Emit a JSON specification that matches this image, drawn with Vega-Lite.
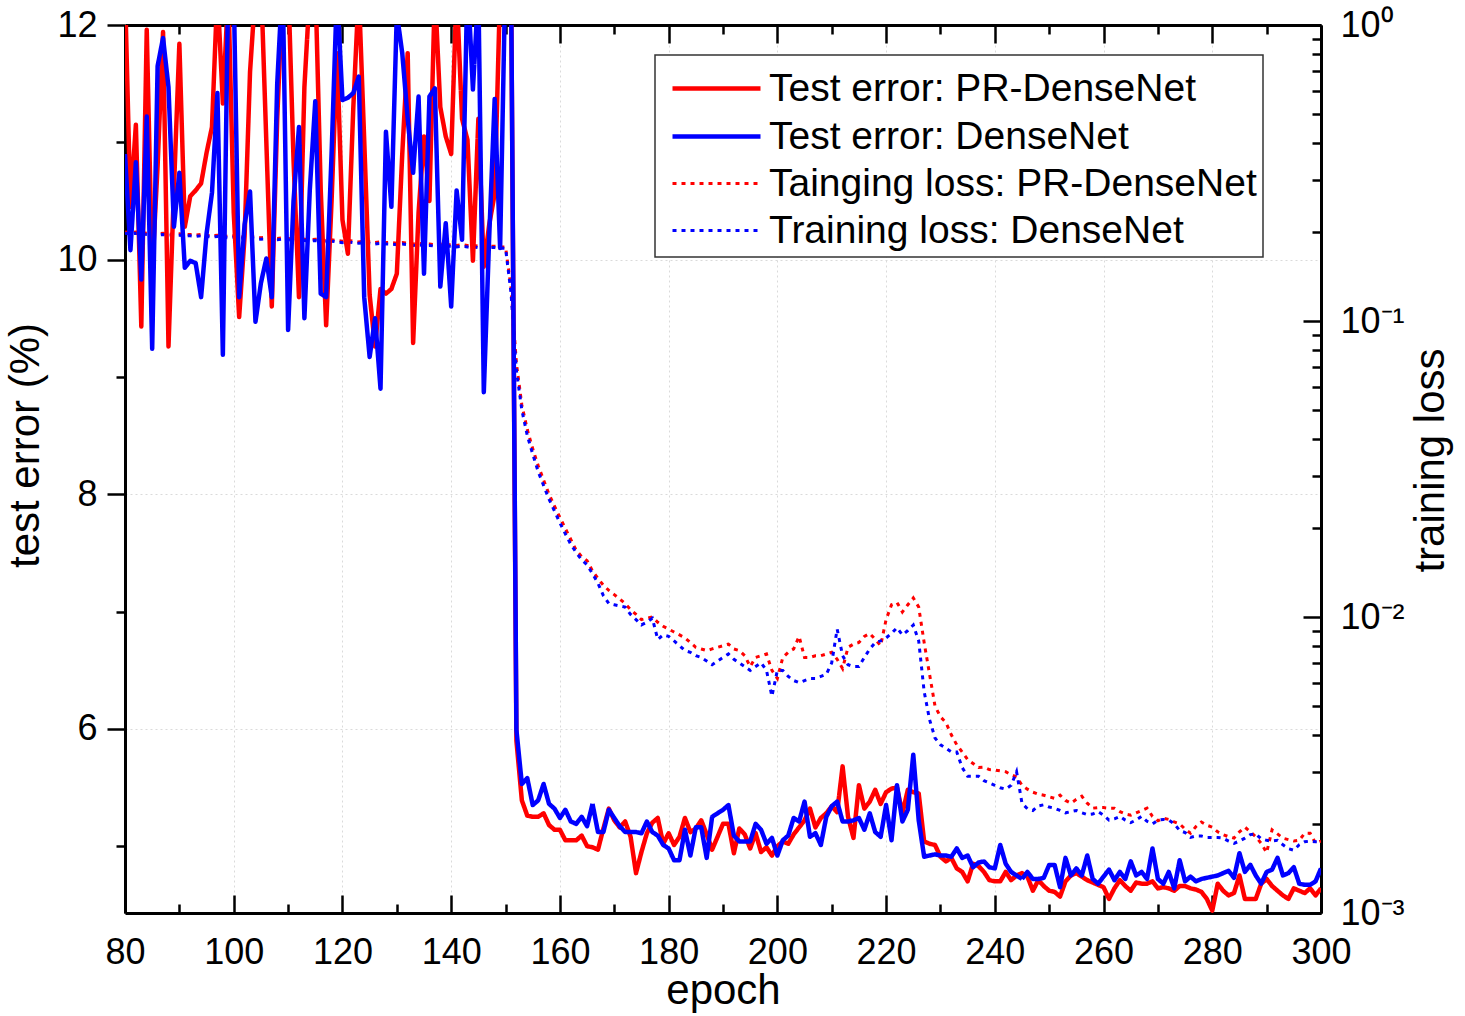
{
  "$schema": "https://vega.github.io/schema/vega-lite/v6.json",
  "width": 1196,
  "height": 888,
  "autosize": {"type": "none"},
  "padding": {"left": 125, "top": 25, "right": 144, "bottom": 103},
  "background": "white",
  "config": {
    "view": {"stroke": null},
    "font": "Liberation Sans",
    "axis": {
      "domainColor": "black",
      "domainWidth": 3,
      "tickColor": "black",
      "tickWidth": 2.5,
      "labelColor": "black",
      "labelFont": "Liberation Sans",
      "labelFontSize": 36,
      "labelFlush": false,
      "labelOverlap": false,
      "labelBound": false,
      "titleFont": "Liberation Sans",
      "titleFontSize": 42,
      "titleFontWeight": "normal",
      "titleColor": "black",
      "gridColor": "#dadada",
      "gridDash": [2, 3],
      "gridWidth": 1
    },
    "legend": {"strokeWidth": 1.5}
  },
  "data": {
    "values": [
      {"epoch":80,"te_pr":12.3,"te_dn":10.9,"tl_pr":0.200,"tl_dn":0.198},
      {"epoch":81,"te_pr":10.45,"te_dn":10.08,"tl_pr":0.199,"tl_dn":0.197},
      {"epoch":82,"te_pr":11.15,"te_dn":10.83,"tl_pr":0.200,"tl_dn":0.198},
      {"epoch":83,"te_pr":9.43,"te_dn":9.83,"tl_pr":0.199,"tl_dn":0.197},
      {"epoch":84,"te_pr":11.96,"te_dn":11.22,"tl_pr":0.198,"tl_dn":0.196},
      {"epoch":85,"te_pr":9.9,"te_dn":9.24,"tl_pr":0.198,"tl_dn":0.196},
      {"epoch":86,"te_pr":10.8,"te_dn":11.65,"tl_pr":0.197,"tl_dn":0.195},
      {"epoch":87,"te_pr":11.94,"te_dn":11.89,"tl_pr":0.198,"tl_dn":0.196},
      {"epoch":88,"te_pr":9.26,"te_dn":11.47,"tl_pr":0.197,"tl_dn":0.195},
      {"epoch":89,"te_pr":10.6,"te_dn":10.28,"tl_pr":0.196,"tl_dn":0.195},
      {"epoch":90,"te_pr":11.84,"te_dn":10.74,"tl_pr":0.197,"tl_dn":0.195},
      {"epoch":91,"te_pr":10.28,"te_dn":9.93,"tl_pr":0.196,"tl_dn":0.194},
      {"epoch":92,"te_pr":10.54,"te_dn":9.99,"tl_pr":0.196,"tl_dn":0.194},
      {"epoch":93,"te_pr":10.59,"te_dn":9.97,"tl_pr":0.195,"tl_dn":0.193},
      {"epoch":94,"te_pr":10.65,"te_dn":9.68,"tl_pr":0.196,"tl_dn":0.194},
      {"epoch":95,"te_pr":10.91,"te_dn":10.22,"tl_pr":0.195,"tl_dn":0.193},
      {"epoch":96,"te_pr":11.13,"te_dn":10.57,"tl_pr":0.194,"tl_dn":0.192},
      {"epoch":97,"te_pr":12.3,"te_dn":11.42,"tl_pr":0.195,"tl_dn":0.193},
      {"epoch":98,"te_pr":11.33,"te_dn":9.19,"tl_pr":0.194,"tl_dn":0.192},
      {"epoch":99,"te_pr":12.3,"te_dn":12.4,"tl_pr":0.193,"tl_dn":0.191},
      {"epoch":100,"te_pr":10.4,"te_dn":12.3,"tl_pr":0.194,"tl_dn":0.192},
      {"epoch":101,"te_pr":9.51,"te_dn":9.68,"tl_pr":0.193,"tl_dn":0.191},
      {"epoch":102,"te_pr":10.2,"te_dn":10.3,"tl_pr":0.192,"tl_dn":0.190},
      {"epoch":103,"te_pr":11.6,"te_dn":10.58,"tl_pr":0.193,"tl_dn":0.191},
      {"epoch":104,"te_pr":12.3,"te_dn":9.47,"tl_pr":0.192,"tl_dn":0.190},
      {"epoch":105,"te_pr":12.4,"te_dn":9.8,"tl_pr":0.191,"tl_dn":0.189},
      {"epoch":106,"te_pr":11.0,"te_dn":10.01,"tl_pr":0.192,"tl_dn":0.190},
      {"epoch":107,"te_pr":9.6,"te_dn":9.68,"tl_pr":0.191,"tl_dn":0.189},
      {"epoch":108,"te_pr":11.2,"te_dn":11.5,"tl_pr":0.190,"tl_dn":0.188},
      {"epoch":109,"te_pr":12.3,"te_dn":12.4,"tl_pr":0.191,"tl_dn":0.189},
      {"epoch":110,"te_pr":12.4,"te_dn":9.4,"tl_pr":0.190,"tl_dn":0.188},
      {"epoch":111,"te_pr":10.85,"te_dn":10.5,"tl_pr":0.189,"tl_dn":0.187},
      {"epoch":112,"te_pr":9.68,"te_dn":11.13,"tl_pr":0.190,"tl_dn":0.188},
      {"epoch":113,"te_pr":11.47,"te_dn":9.5,"tl_pr":0.189,"tl_dn":0.187},
      {"epoch":114,"te_pr":12.3,"te_dn":10.6,"tl_pr":0.188,"tl_dn":0.186},
      {"epoch":115,"te_pr":12.4,"te_dn":11.35,"tl_pr":0.189,"tl_dn":0.187},
      {"epoch":116,"te_pr":10.6,"te_dn":9.71,"tl_pr":0.188,"tl_dn":0.186},
      {"epoch":117,"te_pr":9.44,"te_dn":9.68,"tl_pr":0.187,"tl_dn":0.185},
      {"epoch":118,"te_pr":10.5,"te_dn":10.9,"tl_pr":0.188,"tl_dn":0.186},
      {"epoch":119,"te_pr":11.76,"te_dn":12.3,"tl_pr":0.187,"tl_dn":0.185},
      {"epoch":120,"te_pr":10.34,"te_dn":11.36,"tl_pr":0.186,"tl_dn":0.184},
      {"epoch":121,"te_pr":10.05,"te_dn":11.38,"tl_pr":0.187,"tl_dn":0.185},
      {"epoch":122,"te_pr":11.3,"te_dn":11.42,"tl_pr":0.186,"tl_dn":0.184},
      {"epoch":123,"te_pr":12.3,"te_dn":11.56,"tl_pr":0.185,"tl_dn":0.183},
      {"epoch":124,"te_pr":11.02,"te_dn":9.68,"tl_pr":0.186,"tl_dn":0.184},
      {"epoch":125,"te_pr":9.7,"te_dn":9.17,"tl_pr":0.185,"tl_dn":0.183},
      {"epoch":126,"te_pr":9.26,"te_dn":9.5,"tl_pr":0.184,"tl_dn":0.182},
      {"epoch":127,"te_pr":9.75,"te_dn":8.9,"tl_pr":0.185,"tl_dn":0.183},
      {"epoch":128,"te_pr":9.71,"te_dn":11.09,"tl_pr":0.184,"tl_dn":0.182},
      {"epoch":129,"te_pr":9.75,"te_dn":10.45,"tl_pr":0.184,"tl_dn":0.182},
      {"epoch":130,"te_pr":9.88,"te_dn":12.1,"tl_pr":0.183,"tl_dn":0.181},
      {"epoch":131,"te_pr":10.9,"te_dn":11.76,"tl_pr":0.184,"tl_dn":0.182},
      {"epoch":132,"te_pr":11.76,"te_dn":11.2,"tl_pr":0.183,"tl_dn":0.181},
      {"epoch":133,"te_pr":9.29,"te_dn":10.74,"tl_pr":0.182,"tl_dn":0.180},
      {"epoch":134,"te_pr":10.4,"te_dn":11.39,"tl_pr":0.183,"tl_dn":0.181},
      {"epoch":135,"te_pr":11.05,"te_dn":9.88,"tl_pr":0.182,"tl_dn":0.180},
      {"epoch":136,"te_pr":10.5,"te_dn":11.39,"tl_pr":0.182,"tl_dn":0.180},
      {"epoch":137,"te_pr":12.3,"te_dn":11.46,"tl_pr":0.181,"tl_dn":0.179},
      {"epoch":138,"te_pr":11.3,"te_dn":9.77,"tl_pr":0.182,"tl_dn":0.180},
      {"epoch":139,"te_pr":11.05,"te_dn":10.31,"tl_pr":0.181,"tl_dn":0.179},
      {"epoch":140,"te_pr":10.9,"te_dn":9.6,"tl_pr":0.181,"tl_dn":0.179},
      {"epoch":141,"te_pr":12.3,"te_dn":10.59,"tl_pr":0.180,"tl_dn":0.178},
      {"epoch":142,"te_pr":11.2,"te_dn":10.17,"tl_pr":0.181,"tl_dn":0.179},
      {"epoch":143,"te_pr":11.02,"te_dn":12.4,"tl_pr":0.180,"tl_dn":0.178},
      {"epoch":144,"te_pr":9.99,"te_dn":11.45,"tl_pr":0.180,"tl_dn":0.178},
      {"epoch":145,"te_pr":11.2,"te_dn":12.3,"tl_pr":0.179,"tl_dn":0.177},
      {"epoch":146,"te_pr":9.94,"te_dn":8.87,"tl_pr":0.180,"tl_dn":0.178},
      {"epoch":147,"te_pr":10.3,"te_dn":10.2,"tl_pr":0.179,"tl_dn":0.177},
      {"epoch":148,"te_pr":10.56,"te_dn":11.37,"tl_pr":0.179,"tl_dn":0.177},
      {"epoch":149,"te_pr":12.3,"te_dn":10.1,"tl_pr":0.178,"tl_dn":0.176},
      {"epoch":150,"te_pr":12.5,"te_dn":12.5,"tl_pr":0.178,"tl_dn":0.176},
      {"epoch":151,"te_pr":12.5,"te_dn":12.5,"tl_pr":0.13,"tl_dn":0.125},
      {"epoch":152,"te_pr":5.9,"te_dn":5.99,"tl_pr":0.072,"tl_dn":0.068},
      {"epoch":153,"te_pr":5.39,"te_dn":5.53,"tl_pr":0.052,"tl_dn":0.050},
      {"epoch":154,"te_pr":5.26,"te_dn":5.58,"tl_pr":0.043,"tl_dn":0.041},
      {"epoch":155,"te_pr":5.25,"te_dn":5.35,"tl_pr":0.037,"tl_dn":0.0355},
      {"epoch":156,"te_pr":5.25,"te_dn":5.39,"tl_pr":0.0325,"tl_dn":0.031},
      {"epoch":157,"te_pr":5.28,"te_dn":5.53,"tl_pr":0.029,"tl_dn":0.0278},
      {"epoch":158,"te_pr":5.18,"te_dn":5.36,"tl_pr":0.026,"tl_dn":0.025},
      {"epoch":159,"te_pr":5.14,"te_dn":5.32,"tl_pr":0.0237,"tl_dn":0.0228},
      {"epoch":160,"te_pr":5.14,"te_dn":5.24,"tl_pr":0.0217,"tl_dn":0.0208},
      {"epoch":161,"te_pr":5.05,"te_dn":5.31,"tl_pr":0.0199,"tl_dn":0.0191},
      {"epoch":162,"te_pr":5.05,"te_dn":5.21,"tl_pr":0.0183,"tl_dn":0.0176},
      {"epoch":163,"te_pr":5.05,"te_dn":5.19,"tl_pr":0.0168,"tl_dn":0.0165},
      {"epoch":164,"te_pr":5.09,"te_dn":5.25,"tl_pr":0.0160,"tl_dn":0.0156},
      {"epoch":165,"te_pr":5.0,"te_dn":5.17,"tl_pr":0.0155,"tl_dn":0.0150},
      {"epoch":166,"te_pr":4.99,"te_dn":5.36,"tl_pr":0.0143,"tl_dn":0.0140},
      {"epoch":167,"te_pr":4.97,"te_dn":5.12,"tl_pr":0.0135,"tl_dn":0.0130},
      {"epoch":168,"te_pr":5.15,"te_dn":5.12,"tl_pr":0.0128,"tl_dn":0.0118},
      {"epoch":169,"te_pr":5.32,"te_dn":5.31,"tl_pr":0.0123,"tl_dn":0.0111},
      {"epoch":170,"te_pr":5.22,"te_dn":5.24,"tl_pr":0.0119,"tl_dn":0.0110},
      {"epoch":171,"te_pr":5.16,"te_dn":5.17,"tl_pr":0.0115,"tl_dn":0.0109},
      {"epoch":172,"te_pr":5.21,"te_dn":5.12,"tl_pr":0.0111,"tl_dn":0.0108},
      {"epoch":173,"te_pr":5.08,"te_dn":5.12,"tl_pr":0.0106,"tl_dn":0.0102},
      {"epoch":174,"te_pr":4.77,"te_dn":5.12,"tl_pr":0.0102,"tl_dn":0.0098},
      {"epoch":175,"te_pr":4.95,"te_dn":5.11,"tl_pr":0.0098,"tl_dn":0.0094},
      {"epoch":176,"te_pr":5.11,"te_dn":5.21,"tl_pr":0.0099,"tl_dn":0.0096},
      {"epoch":177,"te_pr":5.2,"te_dn":5.12,"tl_pr":0.0100,"tl_dn":0.0099},
      {"epoch":178,"te_pr":5.24,"te_dn":5.09,"tl_pr":0.0096,"tl_dn":0.0084},
      {"epoch":179,"te_pr":5.02,"te_dn":5.01,"tl_pr":0.0093,"tl_dn":0.0087},
      {"epoch":180,"te_pr":5.11,"te_dn":4.98,"tl_pr":0.0091,"tl_dn":0.0086},
      {"epoch":181,"te_pr":5.01,"te_dn":4.88,"tl_pr":0.0089,"tl_dn":0.0083},
      {"epoch":182,"te_pr":5.08,"te_dn":4.88,"tl_pr":0.0087,"tl_dn":0.0080},
      {"epoch":183,"te_pr":5.24,"te_dn":5.14,"tl_pr":0.0085,"tl_dn":0.0077},
      {"epoch":184,"te_pr":5.12,"te_dn":4.92,"tl_pr":0.0082,"tl_dn":0.0076},
      {"epoch":185,"te_pr":5.15,"te_dn":5.16,"tl_pr":0.0079,"tl_dn":0.0074},
      {"epoch":186,"te_pr":5.22,"te_dn":5.16,"tl_pr":0.0078,"tl_dn":0.0073},
      {"epoch":187,"te_pr":5.1,"te_dn":4.9,"tl_pr":0.0077,"tl_dn":0.0071},
      {"epoch":188,"te_pr":4.97,"te_dn":5.25,"tl_pr":0.0078,"tl_dn":0.0069},
      {"epoch":189,"te_pr":5.08,"te_dn":5.28,"tl_pr":0.0079,"tl_dn":0.0071},
      {"epoch":190,"te_pr":5.19,"te_dn":5.31,"tl_pr":0.0080,"tl_dn":0.0073},
      {"epoch":191,"te_pr":5.19,"te_dn":5.35,"tl_pr":0.0081,"tl_dn":0.0075},
      {"epoch":192,"te_pr":4.94,"te_dn":5.09,"tl_pr":0.0078,"tl_dn":0.0072},
      {"epoch":193,"te_pr":5.15,"te_dn":5.04,"tl_pr":0.0077,"tl_dn":0.0070},
      {"epoch":194,"te_pr":5.1,"te_dn":5.04,"tl_pr":0.0074,"tl_dn":0.0068},
      {"epoch":195,"te_pr":4.98,"te_dn":5.04,"tl_pr":0.0068,"tl_dn":0.0066},
      {"epoch":196,"te_pr":5.11,"te_dn":5.19,"tl_pr":0.0073,"tl_dn":0.0068},
      {"epoch":197,"te_pr":4.95,"te_dn":5.14,"tl_pr":0.0074,"tl_dn":0.0070},
      {"epoch":198,"te_pr":4.99,"te_dn":5.02,"tl_pr":0.0075,"tl_dn":0.0066},
      {"epoch":199,"te_pr":4.92,"te_dn":5.07,"tl_pr":0.0066,"tl_dn":0.0054},
      {"epoch":200,"te_pr":5.0,"te_dn":4.92,"tl_pr":0.0062,"tl_dn":0.0066},
      {"epoch":201,"te_pr":5.04,"te_dn":5.05,"tl_pr":0.0073,"tl_dn":0.0066},
      {"epoch":202,"te_pr":5.02,"te_dn":5.09,"tl_pr":0.0076,"tl_dn":0.0063},
      {"epoch":203,"te_pr":5.1,"te_dn":5.24,"tl_pr":0.0078,"tl_dn":0.0061},
      {"epoch":204,"te_pr":5.16,"te_dn":5.21,"tl_pr":0.0086,"tl_dn":0.0060},
      {"epoch":205,"te_pr":5.22,"te_dn":5.38,"tl_pr":0.0073,"tl_dn":0.0061},
      {"epoch":206,"te_pr":5.32,"te_dn":5.08,"tl_pr":0.0073,"tl_dn":0.0062},
      {"epoch":207,"te_pr":5.16,"te_dn":5.11,"tl_pr":0.0074,"tl_dn":0.0062},
      {"epoch":208,"te_pr":5.24,"te_dn":5.01,"tl_pr":0.0074,"tl_dn":0.0063},
      {"epoch":209,"te_pr":5.28,"te_dn":5.25,"tl_pr":0.0075,"tl_dn":0.0064},
      {"epoch":210,"te_pr":5.34,"te_dn":5.34,"tl_pr":0.0076,"tl_dn":0.0070},
      {"epoch":211,"te_pr":5.29,"te_dn":5.38,"tl_pr":0.0072,"tl_dn":0.0091},
      {"epoch":212,"te_pr":5.68,"te_dn":5.21,"tl_pr":0.0067,"tl_dn":0.0074},
      {"epoch":213,"te_pr":5.25,"te_dn":5.21,"tl_pr":0.0079,"tl_dn":0.0069},
      {"epoch":214,"te_pr":5.07,"te_dn":5.22,"tl_pr":0.0081,"tl_dn":0.0068},
      {"epoch":215,"te_pr":5.52,"te_dn":5.24,"tl_pr":0.0082,"tl_dn":0.0068},
      {"epoch":216,"te_pr":5.32,"te_dn":5.14,"tl_pr":0.0086,"tl_dn":0.0073},
      {"epoch":217,"te_pr":5.38,"te_dn":5.28,"tl_pr":0.0088,"tl_dn":0.0078},
      {"epoch":218,"te_pr":5.48,"te_dn":5.12,"tl_pr":0.0084,"tl_dn":0.0082},
      {"epoch":219,"te_pr":5.36,"te_dn":5.08,"tl_pr":0.0080,"tl_dn":0.0083},
      {"epoch":220,"te_pr":5.46,"te_dn":5.35,"tl_pr":0.0098,"tl_dn":0.0085},
      {"epoch":221,"te_pr":5.49,"te_dn":5.05,"tl_pr":0.0110,"tl_dn":0.0088},
      {"epoch":222,"te_pr":5.5,"te_dn":5.52,"tl_pr":0.0112,"tl_dn":0.0092},
      {"epoch":223,"te_pr":5.28,"te_dn":5.21,"tl_pr":0.0104,"tl_dn":0.0087},
      {"epoch":224,"te_pr":5.48,"te_dn":5.31,"tl_pr":0.0110,"tl_dn":0.0090},
      {"epoch":225,"te_pr":5.46,"te_dn":5.78,"tl_pr":0.0116,"tl_dn":0.0094},
      {"epoch":226,"te_pr":5.45,"te_dn":5.22,"tl_pr":0.0108,"tl_dn":0.0083},
      {"epoch":227,"te_pr":5.04,"te_dn":4.91,"tl_pr":0.0082,"tl_dn":0.0056},
      {"epoch":228,"te_pr":5.02,"te_dn":4.92,"tl_pr":0.0064,"tl_dn":0.0045},
      {"epoch":229,"te_pr":5.01,"te_dn":4.93,"tl_pr":0.0050,"tl_dn":0.0039},
      {"epoch":230,"te_pr":4.91,"te_dn":4.92,"tl_pr":0.0046,"tl_dn":0.0037},
      {"epoch":231,"te_pr":4.87,"te_dn":4.92,"tl_pr":0.0044,"tl_dn":0.0036},
      {"epoch":232,"te_pr":4.9,"te_dn":4.91,"tl_pr":0.0040,"tl_dn":0.0035},
      {"epoch":233,"te_pr":4.81,"te_dn":4.98,"tl_pr":0.0037,"tl_dn":0.0035},
      {"epoch":234,"te_pr":4.78,"te_dn":4.9,"tl_pr":0.0035,"tl_dn":0.0031},
      {"epoch":235,"te_pr":4.7,"te_dn":4.92,"tl_pr":0.0033,"tl_dn":0.0029},
      {"epoch":236,"te_pr":4.85,"te_dn":4.82,"tl_pr":0.0032,"tl_dn":0.0029},
      {"epoch":237,"te_pr":4.83,"te_dn":4.86,"tl_pr":0.0031,"tl_dn":0.0029},
      {"epoch":238,"te_pr":4.78,"te_dn":4.87,"tl_pr":0.00311,"tl_dn":0.0028},
      {"epoch":239,"te_pr":4.71,"te_dn":4.82,"tl_pr":0.00305,"tl_dn":0.00275},
      {"epoch":240,"te_pr":4.7,"te_dn":4.81,"tl_pr":0.00304,"tl_dn":0.0027},
      {"epoch":241,"te_pr":4.7,"te_dn":5.01,"tl_pr":0.00302,"tl_dn":0.00265},
      {"epoch":242,"te_pr":4.78,"te_dn":4.85,"tl_pr":0.0030,"tl_dn":0.00262},
      {"epoch":243,"te_pr":4.71,"te_dn":4.78,"tl_pr":0.00293,"tl_dn":0.0027},
      {"epoch":244,"te_pr":4.75,"te_dn":4.75,"tl_pr":0.00288,"tl_dn":0.0030},
      {"epoch":245,"te_pr":4.77,"te_dn":4.72,"tl_pr":0.0027,"tl_dn":0.00235},
      {"epoch":246,"te_pr":4.74,"te_dn":4.78,"tl_pr":0.00262,"tl_dn":0.00225},
      {"epoch":247,"te_pr":4.62,"te_dn":4.72,"tl_pr":0.00256,"tl_dn":0.00222},
      {"epoch":248,"te_pr":4.71,"te_dn":4.72,"tl_pr":0.00252,"tl_dn":0.0023},
      {"epoch":249,"te_pr":4.66,"te_dn":4.73,"tl_pr":0.0025,"tl_dn":0.00232},
      {"epoch":250,"te_pr":4.62,"te_dn":4.84,"tl_pr":0.00247,"tl_dn":0.00228},
      {"epoch":251,"te_pr":4.61,"te_dn":4.84,"tl_pr":0.00244,"tl_dn":0.00226},
      {"epoch":252,"te_pr":4.57,"te_dn":4.65,"tl_pr":0.0025,"tl_dn":0.00222},
      {"epoch":253,"te_pr":4.7,"te_dn":4.9,"tl_pr":0.0024,"tl_dn":0.00218},
      {"epoch":254,"te_pr":4.75,"te_dn":4.75,"tl_pr":0.00235,"tl_dn":0.0022},
      {"epoch":255,"te_pr":4.77,"te_dn":4.81,"tl_pr":0.00242,"tl_dn":0.00222},
      {"epoch":256,"te_pr":4.74,"te_dn":4.75,"tl_pr":0.00248,"tl_dn":0.00218},
      {"epoch":257,"te_pr":4.71,"te_dn":4.92,"tl_pr":0.00235,"tl_dn":0.00215},
      {"epoch":258,"te_pr":4.69,"te_dn":4.72,"tl_pr":0.00226,"tl_dn":0.00216},
      {"epoch":259,"te_pr":4.67,"te_dn":4.68,"tl_pr":0.00227,"tl_dn":0.0022},
      {"epoch":260,"te_pr":4.65,"te_dn":4.74,"tl_pr":0.00227,"tl_dn":0.00214},
      {"epoch":261,"te_pr":4.55,"te_dn":4.8,"tl_pr":0.00226,"tl_dn":0.00206},
      {"epoch":262,"te_pr":4.64,"te_dn":4.71,"tl_pr":0.00226,"tl_dn":0.00208},
      {"epoch":263,"te_pr":4.71,"te_dn":4.78,"tl_pr":0.0022,"tl_dn":0.00212},
      {"epoch":264,"te_pr":4.66,"te_dn":4.72,"tl_pr":0.00216,"tl_dn":0.00206},
      {"epoch":265,"te_pr":4.62,"te_dn":4.87,"tl_pr":0.00214,"tl_dn":0.00202},
      {"epoch":266,"te_pr":4.69,"te_dn":4.75,"tl_pr":0.00218,"tl_dn":0.00206},
      {"epoch":267,"te_pr":4.68,"te_dn":4.78,"tl_pr":0.00222,"tl_dn":0.00212},
      {"epoch":268,"te_pr":4.68,"te_dn":4.72,"tl_pr":0.00226,"tl_dn":0.00204},
      {"epoch":269,"te_pr":4.7,"te_dn":4.98,"tl_pr":0.00212,"tl_dn":0.002},
      {"epoch":270,"te_pr":4.64,"te_dn":4.72,"tl_pr":0.00205,"tl_dn":0.00206},
      {"epoch":271,"te_pr":4.65,"te_dn":4.68,"tl_pr":0.00209,"tl_dn":0.00207},
      {"epoch":272,"te_pr":4.64,"te_dn":4.78,"tl_pr":0.00207,"tl_dn":0.00206},
      {"epoch":273,"te_pr":4.62,"te_dn":4.64,"tl_pr":0.00203,"tl_dn":0.002},
      {"epoch":274,"te_pr":4.66,"te_dn":4.88,"tl_pr":0.002,"tl_dn":0.0019},
      {"epoch":275,"te_pr":4.66,"te_dn":4.7,"tl_pr":0.00192,"tl_dn":0.00187},
      {"epoch":276,"te_pr":4.64,"te_dn":4.74,"tl_pr":0.00186,"tl_dn":0.0018},
      {"epoch":277,"te_pr":4.63,"te_dn":4.7,"tl_pr":0.00196,"tl_dn":0.00182},
      {"epoch":278,"te_pr":4.61,"te_dn":4.72,"tl_pr":0.00203,"tl_dn":0.00182},
      {"epoch":279,"te_pr":4.55,"te_dn":4.73,"tl_pr":0.00198,"tl_dn":0.0018},
      {"epoch":280,"te_pr":4.45,"te_dn":4.74,"tl_pr":0.00195,"tl_dn":0.0018},
      {"epoch":281,"te_pr":4.68,"te_dn":4.75,"tl_pr":0.00188,"tl_dn":0.0018},
      {"epoch":282,"te_pr":4.62,"te_dn":4.77,"tl_pr":0.00184,"tl_dn":0.00179},
      {"epoch":283,"te_pr":4.58,"te_dn":4.79,"tl_pr":0.00181,"tl_dn":0.00175},
      {"epoch":284,"te_pr":4.6,"te_dn":4.73,"tl_pr":0.00179,"tl_dn":0.00172},
      {"epoch":285,"te_pr":4.75,"te_dn":4.94,"tl_pr":0.00188,"tl_dn":0.00175},
      {"epoch":286,"te_pr":4.55,"te_dn":4.78,"tl_pr":0.00195,"tl_dn":0.00179},
      {"epoch":287,"te_pr":4.55,"te_dn":4.84,"tl_pr":0.00188,"tl_dn":0.00184},
      {"epoch":288,"te_pr":4.55,"te_dn":4.75,"tl_pr":0.00181,"tl_dn":0.00185},
      {"epoch":289,"te_pr":4.68,"te_dn":4.68,"tl_pr":0.00172,"tl_dn":0.00178},
      {"epoch":290,"te_pr":4.72,"te_dn":4.78,"tl_pr":0.0016,"tl_dn":0.00176},
      {"epoch":291,"te_pr":4.66,"te_dn":4.8,"tl_pr":0.00191,"tl_dn":0.00175},
      {"epoch":292,"te_pr":4.62,"te_dn":4.9,"tl_pr":0.00185,"tl_dn":0.00176},
      {"epoch":293,"te_pr":4.58,"te_dn":4.75,"tl_pr":0.00179,"tl_dn":0.0017},
      {"epoch":294,"te_pr":4.55,"te_dn":4.77,"tl_pr":0.00177,"tl_dn":0.00165},
      {"epoch":295,"te_pr":4.64,"te_dn":4.82,"tl_pr":0.00175,"tl_dn":0.00163},
      {"epoch":296,"te_pr":4.62,"te_dn":4.68,"tl_pr":0.00176,"tl_dn":0.0017},
      {"epoch":297,"te_pr":4.6,"te_dn":4.67,"tl_pr":0.00186,"tl_dn":0.00174},
      {"epoch":298,"te_pr":4.64,"te_dn":4.67,"tl_pr":0.00186,"tl_dn":0.00175},
      {"epoch":299,"te_pr":4.58,"te_dn":4.7,"tl_pr":0.00172,"tl_dn":0.00174},
      {"epoch":300,"te_pr":4.64,"te_dn":4.81,"tl_pr":0.00175,"tl_dn":0.00174}
    ]
  },
  "layer": [
    {
      "transform": [{"fold": ["tl_pr", "tl_dn"], "as": ["series", "value"]}],
      "mark": {"type": "line", "clip": true, "strokeCap": "butt"},
      "encoding": {
        "x": {
          "field": "epoch", "type": "quantitative",
          "scale": {"domain": [80, 300], "nice": false, "zero": false},
          "axis": {
            "orient": "top", "title": null, "labels": false, "grid": false,
            "values": [80,90,100,110,120,130,140,150,160,170,180,190,200,210,220,230,240,250,260,270,280,290,300],
            "tickSize": {"condition": {"test": "datum.value % 20 == 0", "value": -18}, "value": -9}
          }
        },
        "y": {
          "field": "value", "type": "quantitative",
          "scale": {"type": "log", "domain": [0.001, 1], "nice": false},
          "axis": {
            "orient": "right", "grid": false,
            "values": [0.001,0.002,0.003,0.004,0.005,0.006,0.007,0.008,0.009,0.01,0.02,0.03,0.04,0.05,0.06,0.07,0.08,0.09,0.1,0.2,0.3,0.4,0.5,0.6,0.7,0.8,0.9,1],
            "labelExpr": "datum.value == 1 ? '10⁰' : datum.value == 0.1 ? '10⁻¹' : datum.value == 0.01 ? '10⁻²' : datum.value == 0.001 ? '10⁻³' : ''",
            "tickSize": {"condition": {"test": "datum.value == 1 || datum.value == 0.1 || datum.value == 0.01 || datum.value == 0.001", "value": -18}, "value": -9},
            "labelPadding": 37,
            "labelAlign": "left",
            "labelBaseline": "middle",
            "title": "training loss",
            "titleAngle": -90,
            "titleX": 122,
            "titleY": 435,
            "titleAlign": "center",
            "titleBaseline": "alphabetic"
          }
        },
        "color": {
          "field": "series", "type": "nominal",
          "scale": {"domain": ["te_pr", "te_dn", "tl_pr", "tl_dn"], "range": ["#ff0000", "#0000ff", "#ff0000", "#0000ff"]},
          "legend": {
            "title": null,
            "orient": "none",
            "legendX": 530,
            "legendY": 30,
            "direction": "vertical",
            "symbolType": "M-1.76,0H1.76",
            "symbolSize": 2500,
            "labelFontSize": 39,
            "labelFont": "Liberation Sans",
            "labelColor": "black",
            "labelLimit": 0,
            "padding": 6,
            "rowPadding": 0,
            "labelOffset": 25,
            "symbolOffset": 28,
            "fillColor": "white",
            "strokeColor": "#333333",
            "labelExpr": "datum.label == 'te_pr' ? 'Test error: PR-DenseNet' : datum.label == 'te_dn' ? 'Test error: DenseNet' : datum.label == 'tl_pr' ? 'Tainging loss: PR-DenseNet' : 'Training loss: DenseNet'"
          }
        },
        "strokeDash": {
          "field": "series", "type": "nominal",
          "scale": {"domain": ["te_pr", "te_dn", "tl_pr", "tl_dn"], "range": [[1, 0], [1, 0], [4, 5], [4, 5]]}
        },
        "strokeWidth": {
          "field": "series", "type": "nominal",
          "scale": {"type": "ordinal", "domain": ["te_pr", "te_dn", "tl_pr", "tl_dn"], "range": [4.5, 4.5, 3, 3]}
        }
      }
    },
    {
      "encoding": {
        "x": {
          "field": "epoch", "type": "quantitative",
          "scale": {"domain": [80, 300], "nice": false, "zero": false},
          "axis": {
            "orient": "bottom", "title": "epoch",
            "values": [80,90,100,110,120,130,140,150,160,170,180,190,200,210,220,230,240,250,260,270,280,290,300],
            "labelExpr": "datum.value % 20 == 0 ? datum.label : ''",
            "tickSize": {"condition": {"test": "datum.value % 20 == 0", "value": -18}, "value": -9},
            "labelPadding": 40,
            "grid": true,
            "gridOpacity": {"condition": {"test": "datum.value % 20 == 0", "value": 1}, "value": 0},
            "titleY": 90,
            "titleBaseline": "alphabetic"
          }
        },
        "y": {
          "field": "value", "type": "quantitative",
          "scale": {"domain": [4.43, 12], "nice": false, "zero": false},
          "axis": {
            "orient": "left",
            "values": [5, 6, 7, 8, 9, 10, 11, 12],
            "labelExpr": "datum.value % 2 == 0 ? datum.label : ''",
            "tickSize": {"condition": {"test": "datum.value % 2 == 0", "value": 18}, "value": 9},
            "labelPadding": 10,
            "grid": true,
            "gridOpacity": {"condition": {"test": "datum.value % 2 == 0", "value": 1}, "value": 0},
            "title": "test error (%)",
            "titleAngle": -90,
            "titleX": -87,
            "titleY": 420,
            "titleAlign": "center",
            "titleBaseline": "alphabetic"
          }
        },
        "color": {
          "field": "series", "type": "nominal",
          "scale": {"domain": ["te_pr", "te_dn", "tl_pr", "tl_dn"], "range": ["#ff0000", "#0000ff", "#ff0000", "#0000ff"]}
        },
        "strokeDash": {
          "field": "series", "type": "nominal",
          "scale": {"domain": ["te_pr", "te_dn", "tl_pr", "tl_dn"], "range": [[1, 0], [1, 0], [4, 5], [4, 5]]}
        },
        "strokeWidth": {
          "field": "series", "type": "nominal",
          "scale": {"type": "ordinal", "domain": ["te_pr", "te_dn", "tl_pr", "tl_dn"], "range": [4.5, 4.5, 3, 3]}
        }
      },
      "layer": [
        {
          "transform": [{"fold": ["te_pr"], "as": ["series", "value"]}],
          "mark": {"type": "line", "clip": true, "strokeJoin": "round"}
        },
        {
          "transform": [{"fold": ["te_dn"], "as": ["series", "value"]}],
          "mark": {"type": "line", "clip": true, "strokeJoin": "round"}
        }
      ]
    }
  ],
  "resolve": {"scale": {"y": "independent"}, "axis": {"x": "independent"}}
}
